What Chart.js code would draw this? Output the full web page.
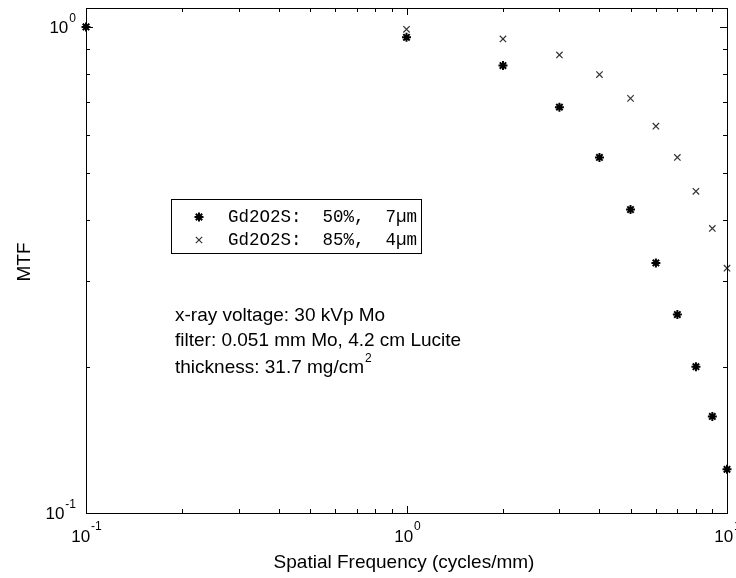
<!DOCTYPE html>
<html>
<head>
<meta charset="utf-8">
<script src="https://cdn.jsdelivr.net/npm/chart.js@4.4.1/dist/chart.umd.min.js"></script>
<style>
html, body { margin: 0; padding: 0; background: #fff; }
#wrap { width: 736px; height: 578px; position: relative; }
</style>
</head>
<body>
<div id="wrap"><canvas id="mtfChart"></canvas></div>
<script>
// spatial frequency (cycles/mm) and measured MTF for the two screens
const freqs = [0.1, 1, 2, 3, 4, 5, 6, 7, 8, 9, 10];
const mtf50 = [1.0, 0.952, 0.833, 0.684, 0.539, 0.421, 0.327, 0.256, 0.200, 0.158, 0.123];
const mtf85 = [1.0, 0.989, 0.945, 0.876, 0.798, 0.713, 0.625, 0.539, 0.459, 0.385, 0.319];
const seriesLabels = ['Gd2O2S:  50%,  7\u00b5m', 'Gd2O2S:  85%,  4\u00b5m'];
const noteLines = ['x-ray voltage: 30 kVp Mo', 'filter: 0.051 mm Mo, 4.2 cm Lucite', 'thickness: 31.7 mg/cm'];
const xTitle = 'Spatial Frequency (cycles/mm)';
const yTitle = 'MTF';

const SANS = "'Liberation Sans', Arial, sans-serif";
const MONO = "'Liberation Mono', 'DejaVu Sans Mono', monospace";

// mantissa of a log tick if it is 1..9 x 10^n, else 0
function mantissa(v) {
    const e = Math.floor(Math.log10(v) + 1e-9);
    const m = v / Math.pow(10, e);
    return Math.abs(m - Math.round(m)) < 1e-6 ? Math.round(m) : 0;
}

function drawPower(ctx, exp, x, y, align) {
    const base = '10';
    const sup = String(exp);
    ctx.font = '17px ' + SANS;
    const wb = ctx.measureText(base).width;
    ctx.font = '12px ' + SANS;
    const ws = ctx.measureText(sup).width;
    const w = wb + ws + 1;
    const left = align === 'center' ? x - w / 2 : x - w;
    ctx.textAlign = 'left';
    ctx.textBaseline = 'middle';
    ctx.font = '17px ' + SANS;
    ctx.fillText(base, left, y);
    ctx.font = '12px ' + SANS;
    ctx.fillText(sup, left + wb + 1, y - 10);
}

// MATLAB style box: inward ticks, power labels, legend and notes
const framePlugin = {
    id: 'frame',
    afterDraw(chart) {
        const ctx = chart.ctx;
        const a = chart.chartArea;
        const xs = chart.scales.x;
        const ys = chart.scales.y;
        ctx.save();
        ctx.strokeStyle = '#000';
        ctx.fillStyle = '#000';
        ctx.lineWidth = 1;

        const line = (x1, y1, x2, y2) => {
            ctx.beginPath(); ctx.moveTo(x1, y1); ctx.lineTo(x2, y2); ctx.stroke();
        };

        ctx.strokeRect(Math.round(a.left) + 0.5, Math.round(a.top) + 0.5,
            Math.round(a.right - a.left), Math.round(a.bottom - a.top));

        xs.ticks.forEach(t => {
            const m = mantissa(t.value);
            if (!m) return;
            const len = m === 1 ? 7 : 4;
            const px = Math.round(xs.getPixelForValue(t.value)) + 0.5;
            line(px, a.bottom, px, a.bottom - len);
            line(px, a.top, px, a.top + len);
            if (m === 1) drawPower(ctx, Math.round(Math.log10(t.value)), px, 537, 'center');
        });

        ys.ticks.forEach(t => {
            const m = mantissa(t.value);
            if (!m) return;
            const len = m === 1 ? 7 : 4;
            const py = Math.round(ys.getPixelForValue(t.value)) + 0.5;
            line(a.left, py, a.left + len, py);
            line(a.right, py, a.right - len, py);
            if (m === 1) drawPower(ctx, Math.round(Math.log10(t.value)), 76, py + 1, 'right');
        });

        // axis titles
        ctx.font = '19px ' + SANS;
        ctx.textAlign = 'center';
        ctx.textBaseline = 'middle';
        ctx.fillText(xTitle, 404, 563);
        ctx.save();
        ctx.translate(25, 262);
        ctx.rotate(-Math.PI / 2);
        ctx.fillText(yTitle, 0, 0);
        ctx.restore();

        // legend box
        ctx.strokeRect(171.5, 199.5, 250, 54);
        chart.data.datasets.forEach((ds, i) => {
            const y = 217 + i * 23;
            ctx.strokeStyle = ds.pointBorderColor;
            ctx.fillStyle = ds.pointBorderColor;
            ctx.lineWidth = ds.pointBorderWidth;
            Chart.helpers.drawPoint(ctx, {
                pointStyle: ds.pointStyle, radius: ds.pointRadius, rotation: 0, borderWidth: ds.pointBorderWidth
            }, 199, y);
            ctx.fillStyle = '#000';
            ctx.font = '17.5px ' + MONO;
            ctx.textAlign = 'left';
            ctx.textBaseline = 'middle';
            ctx.fillText(ds.label, 228, y);
        });

        // notes
        ctx.fillStyle = '#000';
        ctx.font = '19px ' + SANS;
        ctx.textAlign = 'left';
        ctx.textBaseline = 'middle';
        const noteY = [316, 341, 368];
        noteLines.forEach((txt, i) => ctx.fillText(txt, 175, noteY[i]));
        const w = ctx.measureText(noteLines[2]).width;
        ctx.font = '12px ' + SANS;
        ctx.fillText('2', 175 + w + 1, noteY[2] - 9);

        ctx.restore();
    }
};

const ctx = document.getElementById('mtfChart').getContext('2d');
new Chart(ctx, {
    type: 'scatter',
    data: {
        datasets: [{
            label: seriesLabels[0],
            data: freqs.map((f, i) => ({ x: f, y: mtf50[i] })),
            pointStyle: 'star',
            pointRadius: 4.5,
            pointBorderWidth: 2,
            pointBorderColor: '#000',
            pointBackgroundColor: '#000',
            clip: false
        }, {
            label: seriesLabels[1],
            data: freqs.map((f, i) => ({ x: f, y: mtf85[i] })),
            pointStyle: 'crossRot',
            pointRadius: 4.5,
            pointBorderWidth: 1.2,
            pointBorderColor: '#333',
            pointBackgroundColor: '#333',
            clip: false
        }]
    },
    options: {
        responsive: true,
        maintainAspectRatio: false,
        animation: false,
        layout: { padding: { left: 86, top: 8, right: 9, bottom: 65 } },
        plugins: {
            legend: { display: false },
            tooltip: { enabled: false }
        },
        scales: {
            x: { type: 'logarithmic', min: 0.1, max: 10, display: false },
            y: { type: 'logarithmic', min: 0.1, max: 1.094, display: false }
        }
    },
    plugins: [framePlugin]
});
</script>
</body>
</html>
